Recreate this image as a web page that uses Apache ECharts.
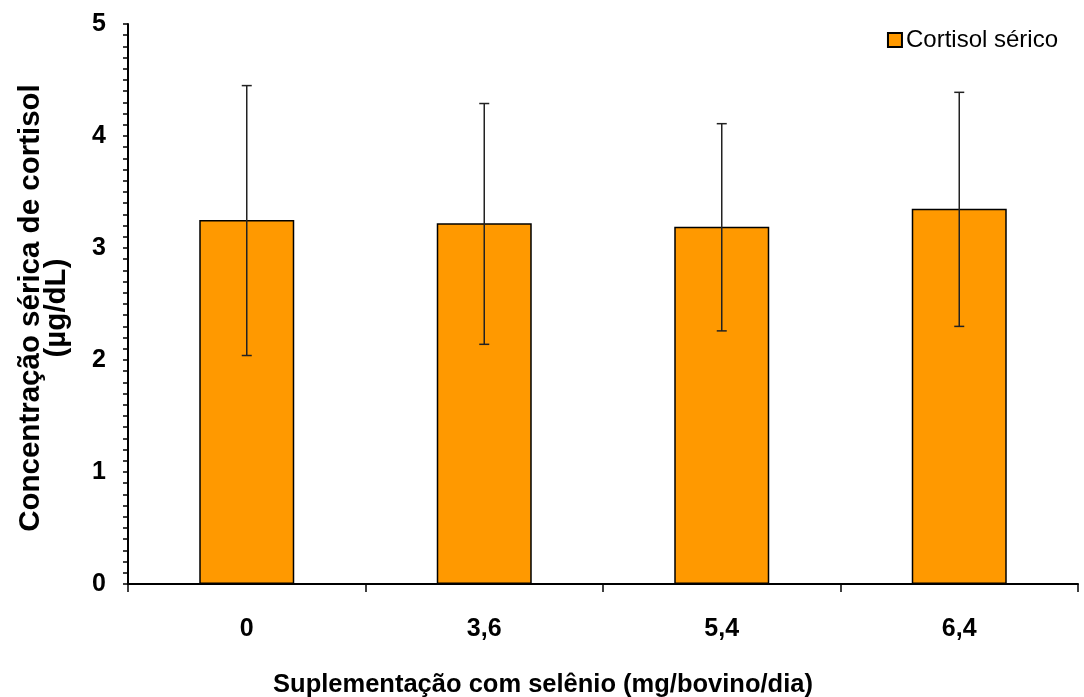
<!DOCTYPE html>
<html>
<head>
<meta charset="utf-8">
<script src="https://cdn.jsdelivr.net/npm/echarts@6/dist/echarts.min.js"></script>
<style>
  html, body { margin: 0; padding: 0; background: #fff; }
  #main { width: 1084px; height: 697px; }
</style>
</head>
<body>
<div id="main"></div>
<script>
var categories = ['0', '3,6', '5,4', '6,4']
var cortisol = [3.25, 3.22, 3.19, 3.35]
var errLow = [2.04, 2.14, 2.26, 2.30]
var errHigh = [4.45, 4.29, 4.11, 4.39]
var yTicks = [0, 1, 2, 3, 4, 5]

var errData = categories.map(function (c, i) {
  return [i, errLow[i], errHigh[i]]
})

var myChart = echarts.init(document.getElementById('main'))
var font = 'Liberation Sans, Arial, sans-serif'
var option = {
  animation: false,
  textStyle: { fontFamily: font },
  grid: { left: 128, right: 6, top: 24, bottom: 113, outerBoundsMode: 'none', containLabel: false },
  legend: {
    right: 21,
    top: 23,
    icon: 'rect',
    itemWidth: 14,
    itemHeight: 14,
    itemGap: 4,
    data: ['Cortisol sérico'],
    textStyle: { fontSize: 24, color: '#000', fontFamily: font, padding: [0, 0, 0, -1] }
  },
  xAxis: {
    type: 'category',
    data: categories,
    name: 'Suplementação com selênio (mg/bovino/dia)',
    nameLocation: 'middle',
    nameGap: 88,
    nameTextStyle: { fontSize: 25.5, fontWeight: 'bold', color: '#000', padding: [0, 120, 0, 0] },
    axisLine: { lineStyle: { color: '#000', width: 2 } },
    axisTick: { show: true, length: 8, lineStyle: { color: '#000', width: 1.5 } },
    axisLabel: { fontSize: 25, fontWeight: 'bold', color: '#000', margin: 33 }
  },
  yAxis: {
    type: 'value',
    min: yTicks[0],
    max: yTicks[yTicks.length - 1],
    interval: 1,
    name: 'Concentração sérica de cortisol\n(µg/dL)',
    nameLocation: 'middle',
    nameGap: 58,
    nameRotate: 90,
    nameTextStyle: { fontSize: 29.5, fontWeight: 'bold', color: '#000', lineHeight: 26, padding: [0, 8, 0, 0] },
    axisLine: { show: true, lineStyle: { color: '#000', width: 2 } },
    axisTick: { show: true, length: 5, lineStyle: { color: '#000', width: 1.5 } },
    minorTick: { show: true, splitNumber: 10, length: 5, lineStyle: { color: '#000', width: 1.5 } },
    splitLine: { show: false },
    axisLabel: { fontSize: 25, fontWeight: 'bold', color: '#000', margin: 22 }
  },
  series: [
    {
      name: 'Cortisol sérico',
      type: 'bar',
      data: cortisol,
      barWidth: '40%',
      itemStyle: { color: '#FF9900', borderColor: '#000', borderWidth: 1.5 }
    },
    {
      type: 'custom',
      data: errData,
      z: 10,
      renderItem: function (params, api) {
        var x = api.value(0)
        var lo = api.coord([x, api.value(1)])
        var hi = api.coord([x, api.value(2)])
        var half = 5
        var style = { stroke: '#222', lineWidth: 1.5 }
        return {
          type: 'group',
          children: [
            { type: 'line', shape: { x1: hi[0], y1: hi[1], x2: lo[0], y2: lo[1] }, style: style },
            { type: 'line', shape: { x1: hi[0] - half, y1: hi[1], x2: hi[0] + half, y2: hi[1] }, style: style },
            { type: 'line', shape: { x1: lo[0] - half, y1: lo[1], x2: lo[0] + half, y2: lo[1] }, style: style }
          ]
        }
      }
    }
  ]
}
myChart.setOption(option)
</script>
</body>
</html>
